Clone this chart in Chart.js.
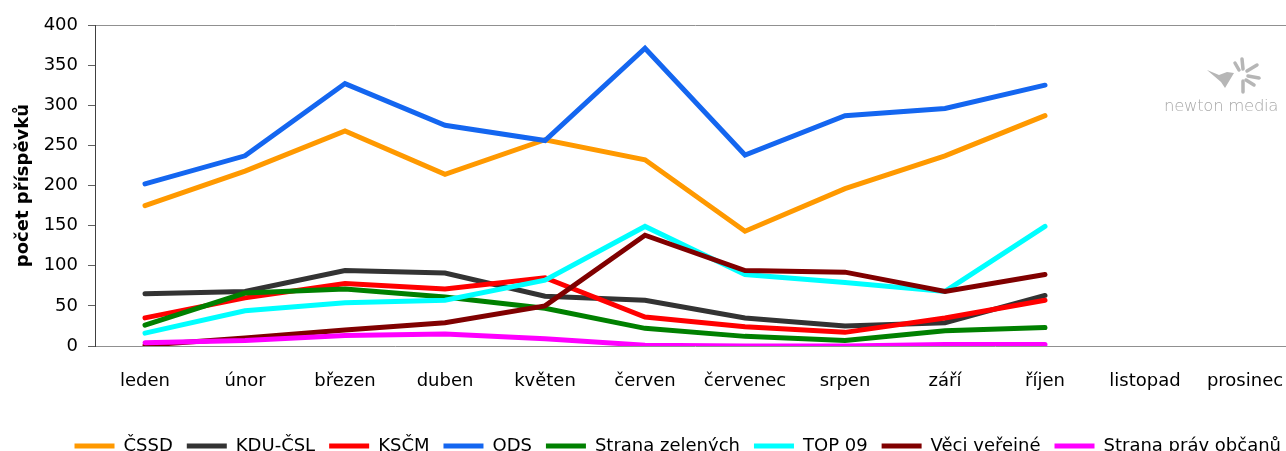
<!DOCTYPE html>
<html lang="cs">
<head>
<meta charset="utf-8">
<script src="https://cdn.jsdelivr.net/npm/chart.js@4/dist/chart.umd.min.js"></script>
<style>
  html, body { margin: 0; padding: 0; background: #fff; overflow: hidden; }
  #contenedor { position: relative; width: 1295px; height: 465px; }
  #grafico { display: block; }
  #logo {
    position: absolute; left: 1164px; top: 96px;
    font-family: "DejaVu Sans", sans-serif; font-weight: 200; font-size: 16.5px;
    color: #a8a8a8; letter-spacing: -0.3px;
  }
  #ave { position: absolute; left: 1200px; top: 54px; }
</style>
</head>
<body>
<div id="contenedor">
  <canvas id="grafico" width="1295" height="465"></canvas>
  <svg id="ave" width="66" height="44" viewBox="0 0 66 44">
    <path fill="#b6b6b6" d="M7 16 L19 21 L27 18 L34 19 L31 24 L25 34 L21 28 Z"/>
    <g stroke="#b6b6b6" stroke-width="3.5" stroke-linecap="round">
      <line x1="43" y1="15" x2="42" y2="5"/>
      <line x1="47" y1="17" x2="57" y2="11"/>
      <line x1="48" y1="22" x2="59" y2="24"/>
      <line x1="46" y1="26" x2="54" y2="31"/>
      <line x1="43" y1="27" x2="43" y2="38"/>
      <line x1="39" y1="16" x2="35" y2="9"/>
    </g>
  </svg>
  <div id="logo">newton media</div>
</div>
<script>
// DATOS:
const mesiace = ["leden", "únor", "březen", "duben", "květen", "červen", "červenec", "srpen", "září", "říjen", "listopad", "prosinec"];

const cssd     = [175, 218, 268, 214, 257, 232, 143, 196, 237, 287, null, null];
const kducsl   = [65, 68, 94, 91, 62, 57, 35, 25, 29, 63, null, null];
const kscm     = [35, 60, 78, 71, 85, 36, 24, 17, 35, 57, null, null];
const ods      = [202, 237, 327, 275, 256, 371, 238, 287, 296, 325, null, null];
const zeleni   = [26, 66, 71, 61, 47, 22, 12, 7, 19, 23, null, null];
const top09    = [16, 44, 54, 57, 82, 149, 89, 79, 68, 149, null, null];
const vv       = [1, 10, 20, 29, 50, 138, 94, 92, 68, 89, null, null];
const spo      = [4, 7, 13, 15, 9, 1, 0, 0, 2, 2, null, null];

const yTicks = [0, 50, 100, 150, 200, 250, 300, 350, 400];

const series = [
    ["ČSSD", cssd, "#ff9900"],
    ["KDU-ČSL", kducsl, "#333333"],
    ["KSČM", kscm, "#ff0000"],
    ["ODS", ods, "#1466f0"],
    ["Strana zelených", zeleni, "#008000"],
    ["TOP 09", top09, "#00ffff"],
    ["Věci veřejné", vv, "#800000"],
    ["Strana práv občanů", spo, "#ff00ff"]
];

const fuente = "'DejaVu Sans', sans-serif";

const datasets = series.map(function(s, i) {
    return {
        label: s[0],
        data: s[1],
        borderColor: s[2],
        backgroundColor: s[2],
        borderWidth: 5,
        borderCapStyle: "round",
        pointRadius: 0,
        tension: 0,
        order: series.length - i // later series on top
    };
});

new Chart(document.getElementById("grafico"), {
    type: "line",
    data: { labels: mesiace, datasets: datasets },
    options: {
        responsive: false,
        animation: false,
        layout: { padding: { top: 25, left: 0, right: 0, bottom: 0 } },
        plugins: {
            tooltip: { enabled: false },
            legend: {
                position: "bottom",
                align: "end",
                labels: {
                    font: { family: fuente, size: 18 },
                    color: "#000",
                    usePointStyle: true,
                    pointStyle: "line",
                    pointStyleWidth: 40,
                    padding: 14,
                    sort: function(a, b) { return a.datasetIndex - b.datasetIndex; }
                }
            }
        },
        scales: {
            x: {
                offset: true,
                grid: {
                    display: true,
                    drawOnChartArea: false,
                    drawTicks: true,
                    tickLength: 16,
                    color: "rgba(0,0,0,0)",
                    tickColor: "rgba(0,0,0,0)"
                },
                border: { display: true, color: "#909090", width: 1 },
                ticks: {
                    font: { family: fuente, size: 18 },
                    color: "#000",
                    padding: 9,
                    maxRotation: 0,
                    autoSkip: false
                },
                afterFit: function(scale) { scale.height = 77; }
            },
            y: {
                min: 0,
                max: 400,
                afterBuildTicks: function(scale) {
                    scale.ticks = yTicks.map(function(v) { return { value: v }; });
                },
                grid: {
                    color: function(ctx) { return ctx.tick && ctx.tick.value === 400 ? "#909090" : "rgba(0,0,0,0)"; },
                    tickColor: "#606060",
                    tickLength: 7,
                    drawTicks: true
                },
                border: { display: true, color: "#404040", width: 1 },
                ticks: {
                    font: { family: fuente, size: 18 },
                    color: "#000",
                    padding: 10
                },
                title: {
                    display: true,
                    text: "počet příspěvků",
                    font: { family: fuente, size: 18, weight: "bold" },
                    color: "#000",
                    padding: { top: 13, bottom: 0 }
                },
                afterFit: function(scale) { scale.width = 95; }
            }
        }
    }
});
</script>
</body>
</html>
